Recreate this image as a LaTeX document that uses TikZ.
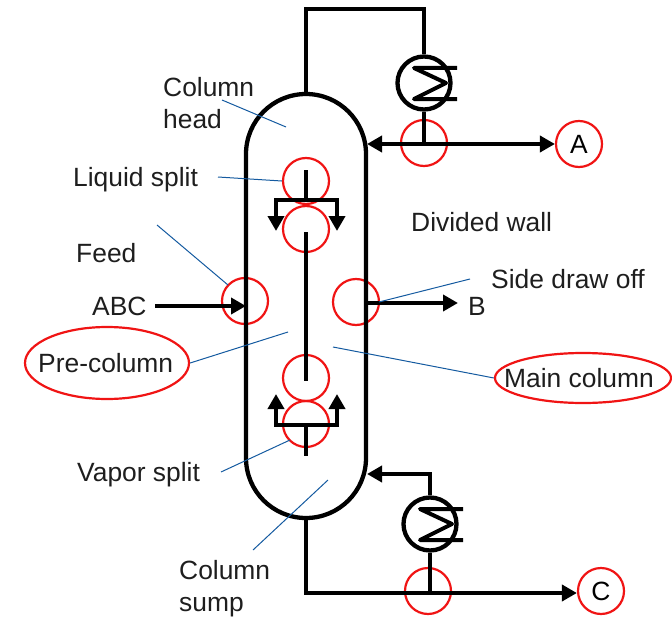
\documentclass[tikz,border=0pt]{standalone}
\usepackage{fontspec}
\setmainfont{Liberation Sans}
\usetikzlibrary{arrows.meta,shapes.geometric}
\definecolor{leadblue}{RGB}{20,90,160}
\definecolor{markred}{RGB}{240,20,20}
\definecolor{txt}{RGB}{30,30,30}
\tikzset{
  x=1pt,y=-1pt,
  pipe/.style={line width=4.3pt,black,line join=miter},
  coil/.style={line width=4pt,black,line join=round},
  flow/.style={pipe,-{Triangle[length=15pt,width=16pt]}},
  flowboth/.style={pipe,{Triangle[length=15pt,width=16pt]}-{Triangle[length=15pt,width=16pt]}},
  ring/.style={circle,draw=markred,line width=2.2pt,minimum size=46pt,inner sep=0pt},
  oval/.style={ellipse,draw=markred,line width=2.2pt,inner sep=0pt},
  hx/.style={circle,draw=black,line width=4.3pt,minimum size=53pt,inner sep=0pt},
  leader/.style={leadblue,line width=1pt},
  lab/.style={font=\fontsize{26.4}{32}\selectfont,text=txt,inner sep=0pt,anchor=west,align=left}
}
\begin{document}
\begin{tikzpicture}
\useasboundingbox (0,0) rectangle (672,618);
% named points
\coordinate (top) at (306,94);
\coordinate (bot) at (306,518);
\coordinate (inA) at (367,144);
\coordinate (inB) at (367,474);
\coordinate (feedin) at (246,306);
\coordinate (sideout) at (366,303);
\coordinate (lineC) at (430,593);
% red rings
\node[ring] (r1) at (306,181) {};
\node[ring] (r2) at (306,229) {};
\node[ring] (r3) at (424,143) {};
\node[ring] (r4) at (245,301) {};
\node[ring] (r5) at (356,302) {};
\node[ring] (r6) at (306,378) {};
\node[ring] (r7) at (306,424) {};
\node[ring] (r8) at (428,591) {};
\node[ring] (A) at (579,144) {\fontsize{26.4}{30}\selectfont A};
\node[ring] (C) at (601,591) {\fontsize{26.4}{30}\selectfont C};
% column shell
\draw[pipe] (246,154) arc[start angle=180,end angle=360,radius=60] -- (366,458) arc[start angle=0,end angle=180,radius=60] -- cycle;
% heat exchangers
\node[hx] (hxt) at (424,83) {};
\node[hx] (hxb) at (430,524) {};
\draw[coil] (457,68) -- (414,68) -- (446,83) -- (414,99) -- (457,99);
\draw[coil] (463,509) -- (420,509) -- (452,524) -- (420,540) -- (463,540);
% top piping
\draw[pipe] (top) -- (306,9) -| (hxt.north);
\draw[pipe] (hxt.south) -- (424,144);
\draw[flowboth] (inA) -- (A.west);
% bottom piping
\draw[pipe] (bot) -- (306,593) -- (lineC);
\draw[pipe] (hxb.south) -- (lineC);
\draw[flow] (lineC) -- (lineC -| C.west);
\draw[flow] (hxb.north) -- (430,474) -- (inB);
% wall and splits
\draw[pipe] (306,170) -- (306,200);
\draw[flow] (306,200) -| (276,231);
\draw[flow] (306,200) -| (337,231);
\draw[pipe] (306,232) -- (306,381);
\draw[pipe] (306,425) -- (306,456);
\draw[flow] (306,425) -| (276,394);
\draw[flow] (306,425) -| (337,394);
% feed and side draw
\node[lab] (abc) at (92,306) {ABC};
\node[lab] (bl) at (468,306) {B};
\coordinate (feedstart) at (155,306);
\draw[flow] (feedstart) -- (feedin);
\draw[flow] (sideout) -- (458,303);
% labels
\node[lab] (head) at (163,103) {Column\\head};
\node[lab] (liq) at (73,180) {Liquid split};
\node[lab] (feed) at (76,253) {Feed};
\node[lab] (wall) at (411,222) {Divided wall};
\node[lab] (side) at (491,279) {Side draw off};
\node[oval,minimum width=164pt,minimum height=72pt] (preo) at (107,363) {};
\node[lab] (pre) at (38,363) {Pre-column};
\node[oval,minimum width=176pt,minimum height=50pt] (maino) at (583,378) {};
\node[lab] (main) at (504,378) {Main column};
\node[lab] (vap) at (77,475) {Vapor split};
\node[lab] (sump) at (179,589) {Column\\sump};
% leader lines
\coordinate (t1) at (286,127);
\coordinate (t2) at (288,332);
\coordinate (t3) at (333,347);
\coordinate (t4) at (328,480);
\draw[leader] (222,100) -- (t1);
\draw[leader] (218,177) -- (r1.west);
\draw[leader] (157,225) -- (228,285);
\draw[leader] (470,279) -- (379,302);
\draw[leader] (preo.east) -- (t2);
\draw[leader] (maino.west) -- (t3);
\draw[leader] (221,472) -- (290,440);
\draw[leader] (253,550) -- (t4);
\end{tikzpicture}
\end{document}
